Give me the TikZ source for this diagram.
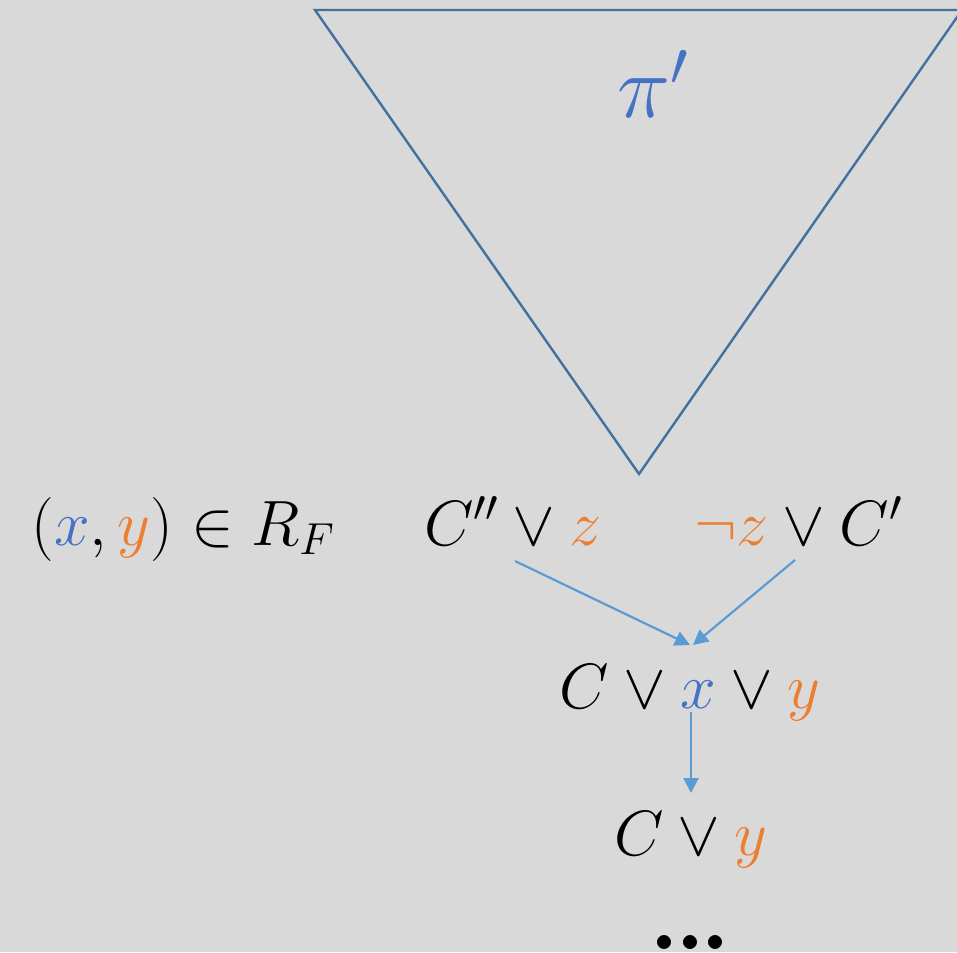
\RequirePackage{fix-cm}
\documentclass[tikz,border=0pt]{standalone}
\usepackage{amsmath}
\usetikzlibrary{arrows.meta}
\definecolor{bg}{HTML}{D9D9D9}
\definecolor{tri}{HTML}{41719C}
\definecolor{xb}{HTML}{4472C4}
\definecolor{orc}{HTML}{ED7D31}
\definecolor{arrc}{HTML}{5B9BD5}
\tikzset{
  lbl/.style={inner sep=0pt, anchor=base, font=\fontsize{64}{76}\selectfont},
  arr/.style={draw=arrc, line width=2.2pt, -{Triangle[length=15pt,width=15pt]}},
}
\begin{document}
\begin{tikzpicture}[x=1pt,y=-1pt]
\path[use as bounding box, fill=bg] (0,0) rectangle (957,952);
\draw[tri, line width=2.4pt, line join=miter] (315,10) -- (962,10) -- (639,474) -- cycle;
\node[inner sep=0pt, anchor=base, font=\fontsize{90}{100}\selectfont, text=xb] (pi) at (653,118) {$\pi'$};
\node[lbl] (lhs) at (183,545) {$(\textcolor{xb}{x},\textcolor{orc}{y})\in R_F$};
\node[lbl] (a) at (513,545) {$C''\vee\textcolor{orc}{z}$};
\node[lbl] (b) at (798,545) {$\textcolor{orc}{\neg z}\vee C'$};
\node[lbl] (c) at (690,708) {$C\vee\textcolor{xb}{x}\vee\textcolor{orc}{y}$};
\node[lbl] (d) at (691,855) {$C\vee\textcolor{orc}{y}$};
\node[inner sep=0pt, anchor=base, font=\fontsize{36}{44}\selectfont] (dots) at (690,951) {${\bullet}\hspace{8pt}{\bullet}\hspace{8pt}{\bullet}$};
\draw[arr] ([shift={(2,16)}]a.base) -- ([shift={(0,-63)}]c.base);
\draw[arr] ([shift={(-3,15)}]b.base) -- ([shift={(3,-63)}]c.base);
\draw[arr] ([shift={(1,4)}]c.base) -- ([shift={(0,-62)}]d.base);
\end{tikzpicture}
\end{document}
